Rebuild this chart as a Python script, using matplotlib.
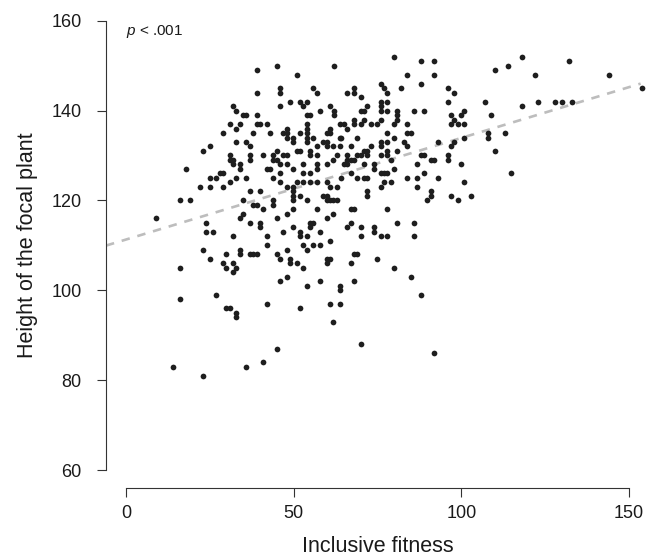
import numpy as np
import matplotlib
matplotlib.use('Agg')
import matplotlib.pyplot as plt

plt.rcParams['font.family'] = ['Liberation Sans', 'DejaVu Sans']
plt.rcParams['mathtext.fontset'] = 'custom'
plt.rcParams['mathtext.rm'] = 'Liberation Sans'
plt.rcParams['mathtext.it'] = 'Liberation Sans:italic'

# data (inclusive fitness, height of focal plant)
fitness_low = [8.9, 33.9, 23.9, 23.9, 25.9, 31.9, 23.0, 33.9, 33.9, 29.9, 25.0, 28.9, 29.9,
               31.9, 32.9, 31.9, 16.0, 26.9, 16.0, 29.9, 30.9, 32.9, 32.9, 13.9, 35.9, 23.0]
height_low = [116, 116, 115, 113, 113, 112, 109, 109, 108, 108, 107, 106, 105,
              106, 105, 104, 105, 99, 98, 96, 96, 95, 94, 83, 83, 81]

fitness_left = [31.9, 32.9, 34.9, 35.9, 30.9, 33.9, 32.9, 28.9, 32.9, 35.9, 25.0, 23.0, 30.9,
                30.9, 31.9, 31.9, 33.9, 33.9, 18.0, 25.0, 26.9, 27.9, 28.9, 32.9, 35.9, 22.0,
                25.0, 28.9, 30.9, 16.0, 19.0, 34.9, 34.9]
height_left = [141, 140, 139, 139, 137, 137, 136, 135, 133, 133, 132, 131, 130,
               129, 129, 128, 128, 127, 127, 125, 125, 126, 126, 125, 125, 123,
               123, 123, 124, 120, 120, 120, 117]

fitness_mid = [44.9, 61.9, 39.0, 50.9, 39.0, 45.9, 45.9, 55.9, 56.9, 48.9, 51.9, 53.9, 52.9,
               45.9, 57.9, 60.9, 61.9, 61.9, 39.0, 53.9, 54.9, 39.0, 40.0, 42.0, 53.9, 53.9,
               63.9, 47.9, 47.9, 46.9, 38.0, 42.9, 51.9, 53.9, 60.8, 60.8, 59.9, 47.9, 49.9,
               53.9, 55.9, 49.9, 53.9, 58.8, 59.9, 59.9, 63.9, 63.9, 61.8, 37.0, 56.9, 47.9,
               46.9, 44.9, 50.9, 51.9, 54.9, 54.9, 37.0, 37.0, 40.9, 43.9, 43.9, 44.9, 56.9,
               62.8, 61.8, 42.9, 42.0, 45.9, 47.9, 52.9, 56.9, 56.9, 59.9, 49.9, 43.9, 45.9,
               45.9, 52.9, 54.9, 47.9, 50.9, 49.9, 52.9, 54.9, 56.9, 59.9, 60.8, 62.8, 37.0,
               40.0, 49.9, 49.9, 49.9, 51.9, 53.9, 58.8, 59.9, 59.9, 60.8, 61.8, 62.8, 43.9,
               43.9, 38.0, 39.0, 40.9, 49.9, 56.9, 47.9, 61.8]
height_mid = [150, 150, 149, 148, 144, 145, 144, 145, 144, 142, 142, 142, 141,
              141, 140, 141, 140, 139, 139, 139, 139, 137, 137, 137, 137, 136,
              137, 136, 135, 135, 135, 135, 135, 135, 136, 135, 135, 134, 134,
              134, 134, 133, 133, 133, 133, 132, 134, 132, 132, 132, 132, 130,
              130, 131, 131, 131, 131, 130, 130, 129, 130, 130, 129, 129, 130,
              130, 129, 127, 127, 128, 128, 128, 128, 127, 128, 127, 125, 126,
              124, 126, 126, 123, 124, 123, 124, 124, 124, 124, 123, 123, 122,
              122, 122, 121, 120, 121, 120, 121, 121, 120, 120, 120, 120, 120,
              119, 119, 119, 118, 118, 118, 117, 117]

fitness_mid_low = [37.0, 40.0, 40.0, 44.9, 54.9, 55.9, 54.9, 59.9, 49.9, 46.9, 51.9, 51.9,
                   53.9, 57.9, 42.0, 42.0, 52.9, 53.9, 55.9, 57.9, 60.8, 37.0, 38.0, 39.0,
                   44.9, 45.9, 47.9, 48.9, 48.9, 50.9, 52.9, 59.9, 60.8, 59.9, 47.9, 45.9,
                   57.9, 53.9, 63.9, 63.9, 42.0, 51.9, 60.8, 63.9, 61.8, 44.9, 40.9]
height_mid_low = [115, 115, 114, 116, 115, 115, 114, 116, 114, 113, 113, 112,
                  112, 113, 112, 110, 110, 109, 110, 110, 111, 108, 108, 108,
                  108, 107, 109, 107, 106, 106, 105, 107, 107, 106, 103, 102,
                  102, 101, 101, 100, 97, 96, 97, 97, 93, 87, 84]

fitness_right = [79.9, 87.9, 91.9, 83.9, 91.9, 87.9, 76.0, 76.9, 81.9, 77.9, 68.0, 68.0, 66.0,
                 70.0, 76.0, 77.9, 76.0, 76.0, 77.9, 72.0, 70.0, 71.0, 80.9, 80.9, 80.9, 85.9,
                 88.9, 68.0, 68.0, 71.0, 76.0, 65.0, 66.0, 70.0, 73.0, 74.9, 79.9, 83.9, 77.9,
                 83.9, 84.9, 64.0, 69.0, 77.9, 76.0, 76.0, 79.9, 82.9, 83.9, 67.0, 73.0, 71.0,
                 72.0, 66.0, 66.0, 69.0, 70.0, 72.0, 76.0, 77.9, 77.9, 80.9, 67.0, 68.0, 65.0,
                 66.0, 71.0, 74.0, 78.9, 87.9, 88.9, 90.9, 91.9, 86.9, 67.0, 74.0, 76.0, 76.9,
                 77.9, 79.9, 88.9, 64.0, 69.0, 71.0, 72.0, 76.9, 78.9, 76.0, 83.9, 86.9, 86.9,
                 72.0, 72.0, 90.9, 90.9, 89.9, 67.0, 68.0, 77.9]
height_right = [152, 151, 151, 148, 148, 146, 146, 145, 145, 144, 145, 144, 144,
                143, 142, 142, 141, 140, 140, 141, 140, 140, 140, 139, 138, 140,
                140, 138, 137, 138, 138, 137, 136, 137, 137, 137, 137, 137, 135,
                135, 135, 134, 134, 133, 133, 132, 134, 133, 132, 132, 132, 131,
                131, 130, 129, 130, 130, 130, 130, 131, 130, 131, 129, 129, 128,
                128, 128, 128, 129, 130, 130, 129, 129, 128, 126, 127, 126, 126,
                126, 127, 126, 125, 125, 125, 125, 124, 124, 123, 125, 125, 123,
                122, 121, 122, 121, 120, 118, 118, 118]

fitness_right_low = [67.0, 66.0, 70.0, 70.0, 74.0, 74.0, 76.0, 77.9, 80.9, 85.9, 85.9, 68.0,
                     69.0, 67.0, 74.9, 79.9, 84.9, 87.9, 68.0, 70.0, 91.9]
height_right_low = [115, 114, 114, 112, 114, 113, 112, 112, 115, 115, 112, 108,
                    108, 106, 107, 105, 103, 99, 102, 88, 86]

fitness_far = [118.0, 113.8, 110.0, 121.9, 95.9, 97.9, 95.9, 107.0, 118.0, 122.9, 100.9, 96.9,
               99.9, 108.9, 97.9, 96.9, 98.9, 100.9, 93.0, 97.9, 96.9, 100.9, 108.0, 108.0,
               112.9, 110.0, 95.9, 95.9, 99.9, 93.0, 114.9, 100.9, 96.9, 98.9, 102.9,
               127.9, 129.9, 132.9, 132.0, 144.0, 154.0]
height_far = [152, 150, 149, 148, 145, 144, 142, 142, 141, 142, 140, 139,
              139, 139, 138, 137, 137, 137, 133, 133, 132, 134, 135, 134,
              135, 131, 130, 129, 128, 125, 126, 124, 121, 120, 121,
              142, 142, 142, 151, 148, 145]

fitness = np.array(fitness_low + fitness_left + fitness_mid + fitness_mid_low
                   + fitness_right + fitness_right_low + fitness_far)
height = np.array(height_low + height_left + height_mid + height_mid_low
                  + height_right + height_right_low + height_far)

# fitted line
fit_intercept = 111.3
fit_slope = 0.226
line_x = np.array([-6, 153.5])

fig = plt.figure(figsize=(6.59, 5.6), dpi=100)
ax = fig.add_axes([106/659, 72/560, 543/659, 485.3/560])

ax.plot(line_x, fit_intercept + fit_slope*line_x, color='#bdbdbd', lw=1.9,
        linestyle=(0, (3.2, 3.0)), zorder=1, solid_capstyle='butt')
ax.scatter(fitness, height, s=17, color='#1e1e1e', linewidths=0, zorder=2)

ax.set_xlim(-6, 156)
ax.set_ylim(56, 164)
ax.set_xticks([0, 50, 100, 150])
ax.set_yticks([60, 80, 100, 120, 140, 160])

for s in ['top', 'right']:
    ax.spines[s].set_visible(False)
ax.spines['left'].set_bounds(60, 160)
ax.spines['bottom'].set_bounds(0, 150)
for s in ['left', 'bottom']:
    ax.spines[s].set_color('#333333')
    ax.spines[s].set_linewidth(0.8)

ax.tick_params(axis='both', direction='out', length=6.5, width=0.8,
               color='#333333', labelsize=13, labelcolor='#1a1a1a')
ax.tick_params(axis='y', pad=11)
ax.tick_params(axis='x', pad=6)

ax.set_xlabel('Inclusive fitness', fontsize=15.5, color='#1a1a1a', labelpad=10)
ax.set_ylabel('Height of the focal plant', fontsize=15.5, color='#1a1a1a', labelpad=10)

ax.text(0, 157.7, '$\\it{p}$ < .001', fontsize=11, va='center', ha='left', color='#1a1a1a')

fig.savefig('out.png', dpi=100)
